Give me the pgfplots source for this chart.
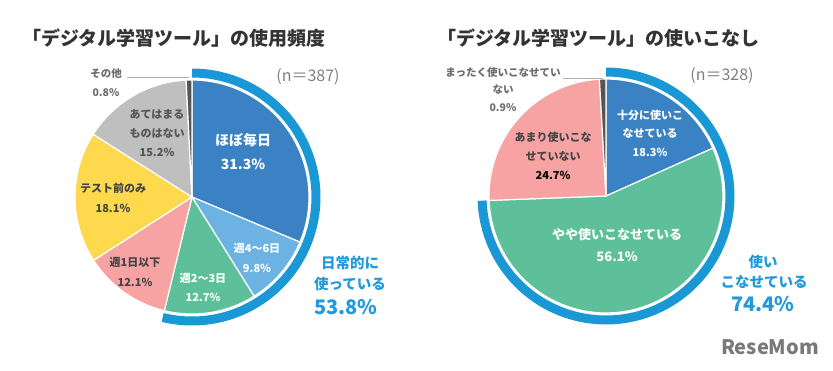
\documentclass[border=0pt]{standalone}
\usepackage{pgfplots}
\pgfplotsset{compat=1.18}
\usepackage{fontspec}
\setmainfont{Noto Sans CJK JP}
\definecolor{sdblue}{HTML}{3B82C4}
\definecolor{slblue}{HTML}{6CB2E3}
\definecolor{sgreen}{HTML}{5DC09B}
\definecolor{spink}{HTML}{F7A3A3}
\definecolor{syellow}{HTML}{FFD94D}
\definecolor{sgray}{HTML}{BFBFBF}
\definecolor{sdark}{HTML}{555555}
\definecolor{ringblue}{HTML}{1A98D5}
\definecolor{txtblue}{HTML}{2299D8}
\definecolor{labdark}{HTML}{444444}
\definecolor{titlec}{HTML}{333333}
% slice: cx, cy, r, start %, end %, colour
\newcommand{\slice}[6]{%
  \addplot[fill=#6, draw=white, line width=1.2pt, domain={90-3.6*#5}:{90-3.6*#4}, samples=60]
    ({#1+#3*cos(x)},{#2-#3*sin(x)}) -- (axis cs:#1,#2) -- cycle;}
\newcommand{\ring}[4]{%
  \addplot[draw=ringblue, line width=9pt, domain={90-3.6*#4}:90, samples=120]
    ({#1+#3*cos(x)},{#2-#3*sin(x)});}
\begin{document}
\begin{tikzpicture}[
  lab/.style={font=\bfseries\fontsize{11}{13}\selectfont, text=labdark, inner sep=0pt},
  wlab/.style={font=\bfseries\fontsize{11}{13}\selectfont, text=white, inner sep=0pt},
  wbig/.style={font=\bfseries\fontsize{14}{16}\selectfont, text=white, inner sep=0pt},
  glab/.style={font=\bfseries\fontsize{10.5}{12}\selectfont, text=gray!85!black, inner sep=0pt},
  blab/.style={font=\bfseries\fontsize{14.5}{16}\selectfont, text=txtblue, inner sep=0pt},
  bbig/.style={font=\bfseries\fontsize{20}{22}\selectfont, text=txtblue, inner sep=0pt},
  ttl/.style={font=\bfseries\fontsize{19}{21}\selectfont, text=titlec, inner sep=0pt, anchor=west},
  nn/.style={font=\fontsize{16}{18}\selectfont, text=gray, inner sep=0pt}]
\begin{axis}[hide axis, scale only axis, width=833pt, height=370pt,
  xmin=0, xmax=833, ymin=0, ymax=370, y dir=reverse, clip=false]
\path (axis cs:0,0) rectangle (axis cs:833,370);
% ---- left pie: usage frequency (n=387), cumulative percentages
\slice{192}{197}{117}{0}{31.3}{sdblue}
\slice{192}{197}{117}{31.3}{41.1}{slblue}
\slice{192}{197}{117}{41.1}{53.8}{sgreen}
\slice{192}{197}{117}{53.8}{65.9}{spink}
\slice{192}{197}{117}{65.9}{84.0}{syellow}
\slice{192}{197}{117}{84.0}{99.2}{sgray}
\slice{192}{197}{117}{99.2}{100}{sdark}
\ring{192}{197}{124}{53.8}
% ---- right pie: mastery (n=328)
\slice{606}{196}{117}{0}{18.3}{sdblue}
\slice{606}{196}{117}{18.3}{74.4}{sgreen}
\slice{606}{196}{117}{74.4}{99.1}{spink}
\slice{606}{196}{117}{99.1}{100}{sdark}
\ring{606}{196}{124}{74.4}
% ---- titles
\node[ttl] at (axis cs:22,38) {「デジタル学習ツール」の使用頻度};
\node[ttl] at (axis cs:437,38) {「デジタル学習ツール」の使いこなし};
\node[nn] at (axis cs:308,77) {(n＝387)};
\node[nn] at (axis cs:722,76) {(n＝328)};
% ---- left labels
\node[wbig] at (axis cs:243,140) {ほぼ毎日};
\node[wbig] at (axis cs:243,164) {31.3\%};
\node[wlab] at (axis cs:257,248) {週4～6日};
\node[wlab] at (axis cs:257,268) {9.8\%};
\node[wlab] at (axis cs:203,278) {週2～3日};
\node[wlab] at (axis cs:203,297) {12.7\%};
\node[lab] at (axis cs:135,262) {週1日以下};
\node[lab] at (axis cs:135,282) {12.1\%};
\node[lab] at (axis cs:113,188) {テスト前のみ};
\node[lab] at (axis cs:113,208) {18.1\%};
\node[lab, text=sdark] at (axis cs:157,114) {あてはまる};
\node[lab, text=sdark] at (axis cs:157,133) {ものはない};
\node[lab, text=sdark] at (axis cs:157,152) {15.2\%};
\node[glab] at (axis cs:106,74) {その他};
\node[glab] at (axis cs:106,93) {0.8\%};
\draw[gray!60, line width=0.8pt] (axis cs:127,77) -- (axis cs:189,77);
\node[blab] at (axis cs:350,263) {日常的に};
\node[blab] at (axis cs:350,284) {使っている};
\node[bbig] at (axis cs:346,307) {53.8\%};
% ---- right labels
\node[glab] at (axis cs:503,72) {まったく使いこなせてい};
\node[glab] at (axis cs:503,90) {ない};
\node[glab] at (axis cs:503,108) {0.9\%};
\draw[gray!60, line width=0.8pt] (axis cs:563,78) -- (axis cs:603,78);
\node[wlab] at (axis cs:650,115) {十分に使いこ};
\node[wlab] at (axis cs:650,133) {なせている};
\node[wlab] at (axis cs:650,152) {18.3\%};
\node[lab] at (axis cs:553,137) {あまり使いこな};
\node[lab] at (axis cs:553,156) {せていない};
\node[lab, text=black] at (axis cs:553,175) {24.7\%};
\node[wbig, font=\bfseries\fontsize{13}{15}\selectfont] at (axis cs:617,235) {やや使いこなせている};
\node[wbig, font=\bfseries\fontsize{13}{15}\selectfont] at (axis cs:617,257) {56.1\%};
\node[blab] at (axis cs:763,262) {使い};
\node[blab] at (axis cs:764,282) {こなせている};
\node[bbig] at (axis cs:763,304) {74.4\%};
% ---- logo
\node[font=\bfseries\fontsize{20}{22}\selectfont, text=gray!95!black, inner sep=0pt] at (axis cs:770,347) {ReseMom};
\end{axis}
\end{tikzpicture}
\end{document}
